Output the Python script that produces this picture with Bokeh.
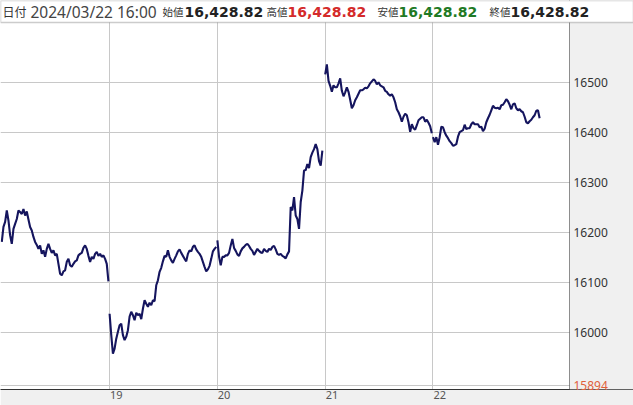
from bokeh.plotting import figure
from bokeh.models import (FixedTicker, LinearAxis, Range1d, Label, Span, Grid,
                          BoxAnnotation, ColumnDataSource)
from bokeh.core.properties import value
from bokeh.embed import file_html
from bokeh.resources import INLINE

# ---- data -------------------------------------------------------------
day_labels = ["18", "19", "20", "21", "22"]

day18 = [16181, 16211, 16221, 16244, 16224, 16194, 16177, 16207, 16217, 16227,
         16244, 16241, 16237, 16247, 16234, 16242, 16226, 16211, 16204, 16191,
         16181, 16175, 16167, 16174, 16157, 16164, 16151, 16167, 16177, 16167,
         16159, 16164, 16154, 16157, 16137, 16117, 16114, 16122, 16124, 16141,
         16147, 16134, 16131, 16137, 16142, 16144, 16154, 16157, 16159, 16169,
         16174, 16167, 16153, 16141, 16151, 16147, 16157, 16161, 16153, 16157,
         16151, 16154, 16147, 16137, 16102]
day19 = [16037, 15994, 15957, 15967, 15987, 16001, 16014, 16017, 15994, 15984,
         15991, 16004, 16031, 16041, 16034, 16024, 16039, 16034, 16037, 16026,
         16047, 16064, 16057, 16051, 16059, 16054, 16064, 16062, 16094, 16104,
         16121, 16129, 16142, 16153, 16151, 16164, 16151, 16144, 16139, 16147,
         16154, 16162, 16166, 16159, 16153, 16147, 16142, 16157, 16164, 16162,
         16171, 16174, 16166, 16161, 16157, 16151, 16141, 16131, 16122, 16126,
         16133, 16147, 16162, 16167, 16171]
day20 = [16184, 16151, 16134, 16151, 16151, 16154, 16154, 16159, 16174, 16187,
         16169, 16163, 16156, 16153, 16162, 16168, 16171, 16175, 16177, 16173,
         16167, 16163, 16155, 16161, 16167, 16163, 16160, 16159, 16167, 16163,
         16161, 16167, 16165, 16171, 16173, 16166, 16157, 16155, 16157, 16153,
         16151, 16148, 16156, 16162, 16251, 16244, 16271, 16234, 16227, 16207,
         16261, 16284, 16324, 16325, 16337, 16329, 16351, 16360, 16367, 16377,
         16367, 16343, 16334, 16364]
day21 = [16517, 16537, 16504, 16494, 16482, 16495, 16491, 16491, 16499, 16509,
         16484, 16473, 16481, 16491, 16482, 16466, 16449, 16455, 16465, 16471,
         16478, 16485, 16485, 16487, 16490, 16489, 16493, 16499, 16503, 16507,
         16504, 16497, 16501, 16495, 16493, 16491, 16484, 16482, 16477, 16474,
         16477, 16471, 16461, 16447, 16441, 16433, 16422, 16432, 16438, 16435,
         16421, 16402, 16417, 16409, 16406, 16415, 16425, 16428, 16431, 16431,
         16422, 16426, 16420, 16413, 16399]
day22 = [16391, 16381, 16391, 16376, 16391, 16412, 16411, 16401, 16394, 16389,
         16383, 16379, 16374, 16375, 16377, 16392, 16401, 16403, 16405, 16416,
         16407, 16409, 16409, 16417, 16421, 16417, 16417, 16417, 16411, 16412,
         16403, 16408, 16421, 16429, 16436, 16445, 16454, 16450, 16449, 16450,
         16447, 16455, 16456, 16461, 16467, 16463, 16456, 16447, 16457, 16459,
         16449, 16445, 16447, 16443, 16441, 16432, 16421, 16419, 16423, 16426,
         16431, 16435, 16444, 16445, 16428.82]
sessions = [day18, day19, day20, day21, day22]

y_ticks = [16000, 16100, 16200, 16300, 16400, 16500]
y_low_mark = 15894

header_date = "2024/03/22 16:00"
open_v, high_v, low_v, close_v = 16428.82, 16428.82, 16428.82, 16428.82

# ---- layout constants ------------------------------------------------
W, H = 633, 405
BOTTOM_H = 16
FRAME_H = H - BOTTOM_H
HEADER_PX = 22
DATA_W = 569                # plotting area width (px), right of it: price scale
PX_PER_DAY = 107.8
BAR_STEP = 1 / 64.7
LABEL_SHIFT = 0.0625        # day labels sit just right of the day gridline
Y_LO, Y_HEADER = 15885, 16621
LINE_COLOR = "#15155e"
FONT = "Noto Sans"
BOLD_FONT = "DejaVu Sans"
JP_FONT = "Noto Sans CJK JP"

units_per_px = (Y_HEADER - Y_LO) / (FRAME_H - HEADER_PX)
y_hi = Y_HEADER + HEADER_PX * units_per_px
x_start = -0.012
x_data_end = x_start + DATA_W / PX_PER_DAY
x_end = x_start + W / PX_PER_DAY

p = figure(width=W, height=H, output_backend="svg", toolbar_location=None,
           x_range=Range1d(x_start, x_end), y_range=Range1d(Y_LO, y_hi),
           x_axis_type=None, y_axis_type=None,
           min_border_left=0, min_border_top=0, min_border_right=0,
           min_border_bottom=BOTTOM_H)
p.background_fill_color = "white"
p.border_fill_color = "#f0f0f0"
p.outline_line_color = None

# grids
day_ticks = list(range(1, len(day_labels)))
p.add_layout(Grid(dimension=0, ticker=FixedTicker(ticks=day_ticks),
                  grid_line_color="#c8c8c8", grid_line_width=1))
p.add_layout(Grid(dimension=1, ticker=FixedTicker(ticks=[y_low_mark] + y_ticks),
                  grid_line_color="#c8c8c8", grid_line_width=1))

# price line, one segment per session
xs, ys = [], []
for d, vals in enumerate(sessions):
    xs.append([d + i * BAR_STEP for i in range(len(vals))])
    ys.append(vals)
p.multi_line(xs=xs, ys=ys, line_color=LINE_COLOR, line_width=2.1)

# price-scale panel on the right
p.add_layout(BoxAnnotation(left=x_data_end, top=Y_HEADER, fill_color="#f0f0f0",
                           fill_alpha=1, line_color=None))
p.add_layout(Span(location=x_data_end, dimension="height", line_color="#222222",
                  line_width=1, line_dash="1 1"))
tick_src = ColumnDataSource(dict(x=[x_data_end] * len(y_ticks), y=y_ticks,
                                 t=[str(v) for v in y_ticks]))
r = p.text(x="x", y="y", text="t", source=tick_src, x_offset=4,
           text_font=value(FONT), text_font_size="12px", text_color="#333333",
           text_baseline="middle", text_align="left")
r.level = "overlay"
low_src = ColumnDataSource(dict(x=[x_data_end], y=[y_low_mark], t=[str(y_low_mark)]))
r2 = p.text(x="x", y="y", text="t", source=low_src, x_offset=4,
            text_font=value(FONT), text_font_size="12px", text_color="#e0603c",
            text_baseline="middle", text_align="left")
r2.level = "overlay"

# header strip
p.add_layout(BoxAnnotation(bottom=Y_HEADER, fill_color="white", fill_alpha=1,
                           line_color="#555555", line_width=1.5))

def fmt(v):
    return f"{v:,.2f}"

y_mid = Y_HEADER + HEADER_PX / 2 * units_per_px
pieces = [
    (2, "日付", JP_FONT, "12px", "normal", "#333333"),
    (30, header_date, FONT, "15.5px", "normal", "#444444"),
    (162, "始値", JP_FONT, "10.5px", "normal", "#333333"),
    (184, fmt(open_v), BOLD_FONT, "14px", "bold", "#222222"),
    (266, "高値", JP_FONT, "10.5px", "normal", "#333333"),
    (287, fmt(high_v), BOLD_FONT, "14px", "bold", "#d42a2a"),
    (377, "安値", JP_FONT, "10.5px", "normal", "#333333"),
    (398, fmt(low_v), BOLD_FONT, "14px", "bold", "#1f7a25"),
    (489, "終値", JP_FONT, "10.5px", "normal", "#333333"),
    (510, fmt(close_v), BOLD_FONT, "14px", "bold", "#222222"),
]
for x, t, f, s, st, c in pieces:
    p.add_layout(Label(x=x, y=y_mid, x_units="screen", y_units="data",
                       text=t, text_font=f, text_font_size=s, text_font_style=st,
                       text_color=c, text_baseline="middle", text_align="left"))

# bottom date axis (labels placed just to the right of each day line)
label_ticks = [d + LABEL_SHIFT for d in day_ticks]
xaxis = LinearAxis(ticker=FixedTicker(ticks=label_ticks),
                   major_label_overrides={t: day_labels[d] for t, d in zip(label_ticks, day_ticks)})
xaxis.axis_line_color = "#333333"
xaxis.major_tick_line_color = None
xaxis.minor_tick_line_color = None
xaxis.major_tick_out = 0
xaxis.major_tick_in = 0
xaxis.major_label_standoff = 1
xaxis.major_label_text_font = FONT
xaxis.major_label_text_font_size = "11px"
xaxis.major_label_text_color = "#555555"
p.add_layout(xaxis, "below")

open("out.html", "w").write(file_html(p, INLINE))
